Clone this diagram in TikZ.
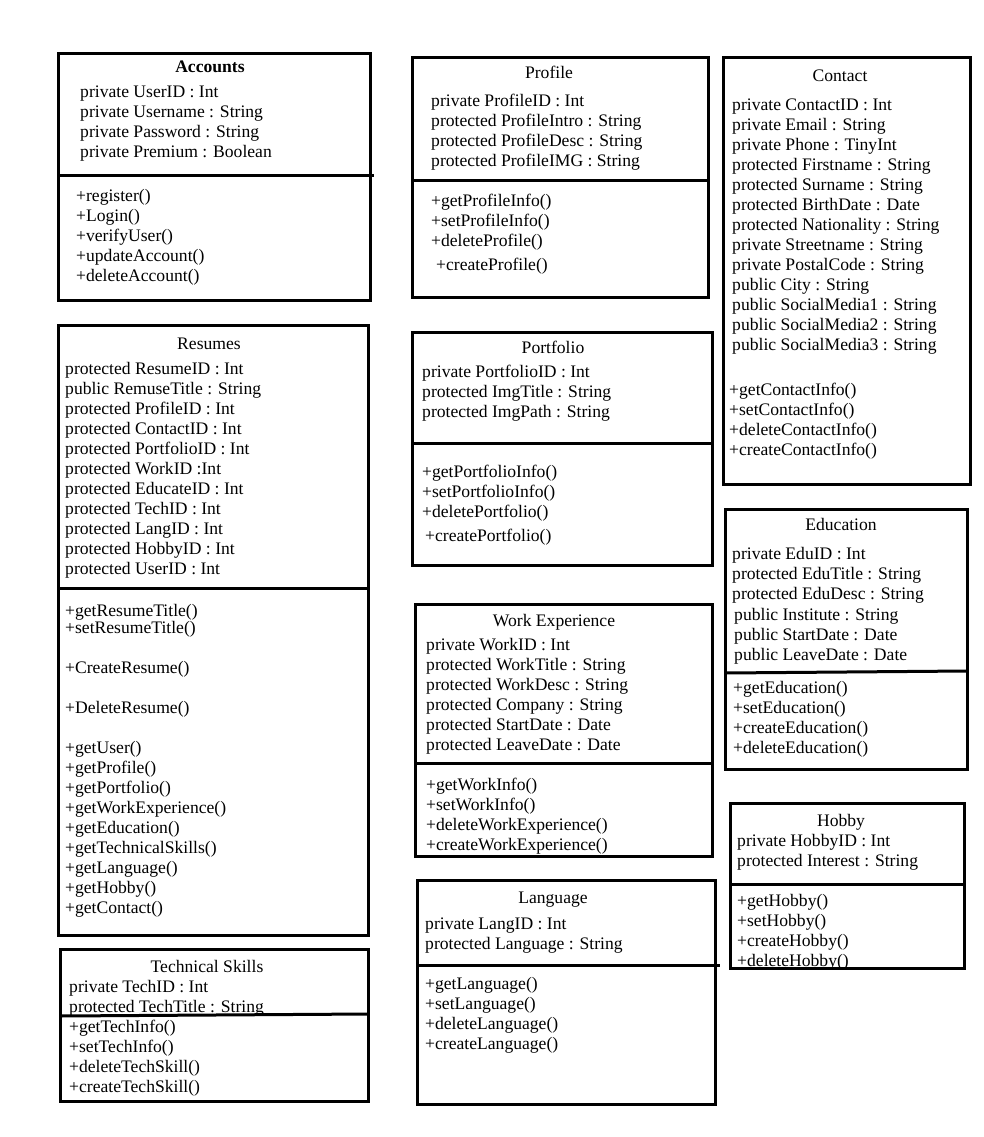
\documentclass[tikz,border=0pt]{standalone}
\usepackage{fontspec}
\setmainfont{Liberation Serif}
\newcommand\boxlines[4]{%
  \foreach \t [count=\i] in {#4}
    \node[txt] (#1\i) at (#2,{#3+20*(\i-1)+6.5}) {\t};}
\newcommand\umlbox[5]{%
  \node[box, minimum width={#4-#2}, minimum height={#5-#3}] (#1) at ({(#2+#4)/2},{(#3+#5)/2}) {};}
\begin{document}
\begin{tikzpicture}[x=1pt,y=-1pt,
  txt/.style={anchor=base west, inner sep=0pt, font=\fontsize{17.6}{20}\selectfont},
  ttl/.style={anchor=base, inner sep=0pt, font=\fontsize{17.6}{20}\selectfont},
  box/.style={draw, line width=3pt, inner sep=0pt, outer sep=0pt},
  divider/.style={line width=3pt}]
\useasboundingbox (0,0) rectangle (983,1137);
% Accounts
\node[ttl, font=\fontsize{17.6}{20}\selectfont\bfseries] (acc-t) at (210,72.5) {Accounts};
\boxlines{acc-a}{80}{91}{private UserID : Int,private Username : String,private Password : String,private Premium : Boolean}
\boxlines{acc-m}{76}{195}{+register(),+Login(),+verifyUser(),+updateAccount(),+deleteAccount()}
\umlbox{acc}{58}{54}{370}{300}
\coordinate (acc-d1) at (58,175); \coordinate (acc-d2) at (374,175);
\draw[divider] (acc-d1) -- (acc-d2);
% Profile
\node[ttl] (pro-t) at (549,78.5) {Profile};
\boxlines{pro-a}{431}{100}{private ProfileID : Int,protected ProfileIntro : String,protected ProfileDesc : String,protected ProfileIMG : String}
\boxlines{pro-m}{431}{200}{+getProfileInfo(),+setProfileInfo(),+deleteProfile()}
\node[txt] (pro-m4) at (436,270.5) {+createProfile()};
\umlbox{pro}{412}{58}{708}{297}
\coordinate (pro-d1) at (412,180); \coordinate (pro-d2) at (708,180);
\draw[divider] (pro-d1) -- (pro-d2);
% Contact
\node[ttl] (con-t) at (840,81.5) {Contact};
\boxlines{con-a}{732}{104}{private ContactID : Int,private Email : String,private Phone : TinyInt,protected Firstname : String,protected Surname : String,protected BirthDate : Date,protected Nationality : String,private Streetname : String,private PostalCode : String,public City : String,public SocialMedia1 : String,public SocialMedia2 : String,public SocialMedia3 : String}
\boxlines{con-m}{729}{389}{+getContactInfo(),+setContactInfo(),+deleteContactInfo(),+createContactInfo()}
\umlbox{con}{723}{58}{970}{484}
% Resumes
\node[ttl] (res-t) at (209,349.5) {Resumes};
\boxlines{res-a}{65}{368}{protected ResumeID : Int,public RemuseTitle : String,protected ProfileID : Int,protected ContactID : Int,protected PortfolioID : Int,protected WorkID :Int,protected EducateID : Int,protected TechID : Int,protected LangID : Int,protected HobbyID : Int,protected UserID : Int}
\node[txt] (res-m1) at (65,616.5) {+getResumeTitle()};
\node[txt] (res-m2) at (65,633.5) {+setResumeTitle()};
\node[txt] (res-m3) at (65,673.5) {+CreateResume()};
\node[txt] (res-m4) at (65,713.5) {+DeleteResume()};
\boxlines{res-g}{65}{747}{+getUser(),+getProfile(),+getPortfolio(),+getWorkExperience(),+getEducation(),+getTechnicalSkills(),+getLanguage(),+getHobby(),+getContact()}
\umlbox{res}{58}{325}{368}{935}
\coordinate (res-d1) at (58,588); \coordinate (res-d2) at (368,588);
\draw[divider] (res-d1) -- (res-d2);
% Technical Skills
\node[ttl] (tec-t) at (207,972.5) {Technical Skills};
\boxlines{tec-a}{69}{986}{private TechID : Int,protected TechTitle : String}
\boxlines{tec-m}{69}{1026}{+getTechInfo(),+setTechInfo(),+deleteTechSkill(),+createTechSkill()}
\umlbox{tec}{60}{949}{368}{1101}
\coordinate (tec-d1) at (60,1016); \coordinate (tec-d2) at (368,1014);
\draw[divider] (tec-d1) -- (tec-d2);
% Portfolio
\node[ttl] (por-t) at (553,353.5) {Portfolio};
\boxlines{por-a}{422}{371}{private PortfolioID : Int,protected ImgTitle : String,protected ImgPath : String}
\boxlines{por-m}{422}{471}{+getPortfolioInfo(),+setPortfolioInfo(),+deletePortfolio()}
\node[txt] (por-m4) at (425,541.5) {+createPortfolio()};
\umlbox{por}{412}{332}{712}{565}
\coordinate (por-d1) at (412,443); \coordinate (por-d2) at (712,443);
\draw[divider] (por-d1) -- (por-d2);
% Work Experience
\node[ttl] (wor-t) at (554,626.5) {Work Experience};
\boxlines{wor-a}{426}{644}{private WorkID : Int,protected WorkTitle : String,protected WorkDesc : String,protected Company : String,protected StartDate : Date,protected LeaveDate : Date}
\boxlines{wor-m}{426}{784}{+getWorkInfo(),+setWorkInfo(),+deleteWorkExperience(),+createWorkExperience()}
\umlbox{wor}{415}{604}{712}{856}
\coordinate (wor-d1) at (415,763); \coordinate (wor-d2) at (712,763);
\draw[divider] (wor-d1) -- (wor-d2);
% Language
\node[ttl] (lan-t) at (553,903.5) {Language};
\boxlines{lan-a}{425}{923}{private LangID : Int,protected Language : String}
\boxlines{lan-m}{425}{983}{+getLanguage(),+setLanguage(),+deleteLanguage(),+createLanguage()}
\umlbox{lan}{417}{880}{715}{1104}
\coordinate (lan-d1) at (417,965); \coordinate (lan-d2) at (720,965);
\draw[divider] (lan-d1) -- (lan-d2);
% Education
\node[ttl] (edu-t) at (841,530.5) {Education};
\boxlines{edu-a}{732}{553}{private EduID : Int,protected EduTitle : String,protected EduDesc : String}
\boxlines{edu-b}{734}{614}{public Institute : String,public StartDate : Date,public LeaveDate : Date}
\boxlines{edu-m}{733}{687}{+getEducation(),+setEducation(),+createEducation(),+deleteEducation()}
\umlbox{edu}{725}{509}{967}{769}
\coordinate (edu-d1) at (725,673); \coordinate (edu-d2) at (967,671);
\draw[divider] (edu-d1) -- (edu-d2);
% Hobby
\node[ttl] (hob-t) at (841,826.5) {Hobby};
\boxlines{hob-a}{737}{840}{private HobbyID : Int,protected Interest : String}
\boxlines{hob-m}{737}{900}{+getHobby(),+setHobby(),+createHobby(),+deleteHobby()}
\umlbox{hob}{730}{803}{964}{968}
\coordinate (hob-d1) at (730,884); \coordinate (hob-d2) at (964,884);
\draw[divider] (hob-d1) -- (hob-d2);
\end{tikzpicture}
\end{document}
